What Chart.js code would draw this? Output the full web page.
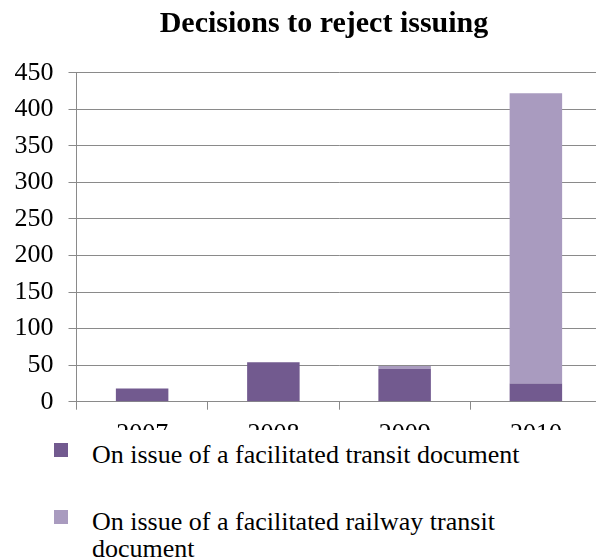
<!DOCTYPE html>
<html>
<head>
<meta charset="utf-8">
<script src="https://cdn.jsdelivr.net/npm/chart.js@4/dist/chart.umd.min.js"></script>
<style>
    html, body { margin: 0; padding: 0; background: #fff; }
    body { width: 596px; height: 560px; position: relative; overflow: hidden; font-family: 'Liberation Serif', 'Times New Roman', serif; }
    #title { position: absolute; left: 0; top: 7px; width: 648px; text-align: center; font-weight: bold; font-size: 30px; line-height: 30px; color: #000; }
    #plot { position: absolute; left: 0; top: 0; width: 596px; height: 430px; overflow: hidden; }
    #legend { position: absolute; left: 0; top: 0; }
    .legend-item { position: absolute; left: 0; }
    .legend-box { position: absolute; left: 54px; width: 14px; height: 14px; }
    .legend-text { position: absolute; left: 92px; width: 440px; font-size: 26px; line-height: 27px; color: #000; }
</style>
</head>
<body>
<div id="plot"><canvas id="chart" width="610" height="470"></canvas></div>
<div id="title">Decisions to reject issuing</div>
<div id="legend"></div>
<script>
// Chart data
const years = ['2007', '2008', '2009', '2010'];
const transitDocs = [18, 54, 45, 25];
const railwayDocs = [0, 0, 4, 397];
const seriesLabels = [
    'On issue of a facilitated transit document',
    'On issue of a facilitated railway transit document'
];
const seriesColors = ['#725a8f', '#a99bbf'];
const yMax = 450;
const yStep = 50;

const gridColor = '#8a8a8a';
const tickFont = { family: "'Liberation Serif', 'Times New Roman', serif", size: 26 };

const chart = new Chart(document.getElementById('chart'), {
    type: 'bar',
    data: {
        labels: years,
        datasets: [{
            label: seriesLabels[0],
            data: transitDocs,
            backgroundColor: seriesColors[0],
            borderWidth: 0
        }, {
            label: seriesLabels[1],
            data: railwayDocs,
            backgroundColor: seriesColors[1],
            borderWidth: 0
        }]
    },
    options: {
        responsive: false,
        animation: false,
        devicePixelRatio: 1,
        layout: {
            padding: { top: 72.7, left: 13.5, right: 8.5, bottom: 0 }
        },
        datasets: {
            bar: { barPercentage: 0.4, categoryPercentage: 1 }
        },
        plugins: {
            title: { display: false },
            legend: { display: false },
            tooltip: { enabled: false }
        },
        scales: {
            x: {
                stacked: true,
                offset: true,
                grid: {
                    offset: true,
                    drawOnChartArea: false,
                    drawTicks: true,
                    tickLength: 8,
                    color: gridColor,
                    lineWidth: 1
                },
                border: { color: gridColor, width: 1 },
                ticks: {
                    color: '#000',
                    font: tickFont,
                    padding: 9,
                    maxRotation: 0
                },
                afterFit: function(scale) {
                    scale.height = 470 - 401.7;
                }
            },
            y: {
                stacked: true,
                min: 0,
                max: yMax,
                grid: {
                    color: gridColor,
                    lineWidth: 1,
                    drawTicks: true,
                    tickLength: 8
                },
                border: { color: gridColor, width: 1 },
                ticks: {
                    stepSize: yStep,
                    color: '#000',
                    font: tickFont,
                    padding: 15
                },
                afterFit: function(scale) {
                    scale.width = 63;
                }
            }
        }
    }
});

// HTML legend built from the dataset labels and colours
const legendTops = [441, 508];
const legend = document.getElementById('legend');
seriesLabels.forEach(function(label, i) {
    const item = document.createElement('div');
    item.className = 'legend-item';
    item.style.top = legendTops[i] + 'px';
    item.innerHTML = '<div class="legend-box" style="top:2px;background:' + seriesColors[i] + '"></div>' +
        '<div class="legend-text">' + label + '</div>';
    legend.appendChild(item);
});
</script>
</body>
</html>
